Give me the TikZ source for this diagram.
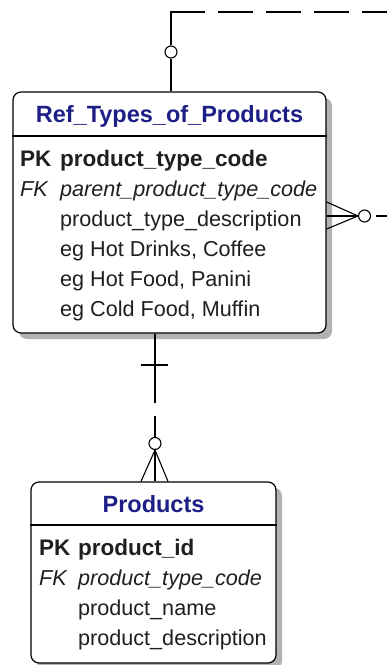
\documentclass[tikz,border=0pt]{standalone}
\usepackage{fontspec}
\setmainfont{Liberation Sans}
\usetikzlibrary{shadows}
\usetikzlibrary{positioning}
\definecolor{titleblue}{RGB}{30,30,135}
\tikzset{
    entbox/.style = {rectangle, rounded corners=8bp, draw=black, line width=1.2bp, fill=white, inner sep=0pt, drop shadow={shadow xshift=6bp, shadow yshift=-6bp, fill=black!30, opacity=1}},
    enttitle/.style = {anchor=base, inner sep=0pt, text=titleblue, font=\bfseries\fontsize{23.5bp}{28bp}\selectfont},
    entline/.style = {-, line width=1.2bp, black},
    keyc/.style = {anchor=base west, inner sep=0pt, text=black!88},
    fldc/.style = {anchor=base west, inner sep=0pt, text=black!88},
    pkf/.style = {font=\bfseries\fontsize{22.5bp}{27bp}\selectfont},
    fkf/.style = {font=\itshape\fontsize{21.6bp}{26bp}\selectfont},
    nrf/.style = {font=\fontsize{21.6bp}{26bp}\selectfont},
    rel/.style = {-, line width=1.1bp, black},
    reldash/.style = {rel, dash pattern=on 35bp off 13bp, dash phase=35bp}, % middle of the self link
    optc/.style = {circle, draw=black, line width=1.1bp, fill=white, minimum size=12bp, inner sep=0pt}
}
\begin{document}
\begin{tikzpicture}[x=1bp, y=-1bp]
  \path[fill=white, use as bounding box] (0,0) rectangle (386,665);

  % entities
  \node[entbox, minimum width=313bp, minimum height=241bp] (ref) at (169.5,212.5) {};
  \draw[entline] (ref.west |- 0,136) -- (ref.east |- 0,136);
  \node[enttitle] (reft) at (169.5,122.5) {Ref\_Types\_of\_Products};
  \foreach \s/\k/\f [count=\i from 0] in {pkf/PK/product\_type\_code, fkf/FK/parent\_product\_type\_code, nrf/{}/product\_type\_description, nrf/{}/{eg Hot Drinks, Coffee}, nrf/{}/{eg Hot Food, Panini}, nrf/{}/{eg Cold Food, Muffin}} {
    \node[keyc, \s] (refk\i) at (20, 166+30*\i) {\k};
    \node[fldc, \s] (reff\i) at (60, 166+30*\i) {\f};
  }

  \node[entbox, minimum width=245bp, minimum height=181bp] (prod) at (153.5,572.5) {};
  \draw[entline] (prod.west |- 0,525) -- (prod.east |- 0,525);
  \node[enttitle] (prodt) at (153.5,512) {Products};
  \foreach \s/\k/\f [count=\i from 0] in {pkf/PK/product\_id, fkf/FK/product\_type\_code, nrf/{}/product\_name, nrf/{}/product\_description} {
    \node[keyc, \s] (prodk\i) at (39, 555+30*\i) {\k};
    \node[fldc, \s] (prodf\i) at (78, 555+30*\i) {\f};
  }

  % self link of ref
  \node[optc] (sc) at (171,52) {};
  \coordinate (st) at (205,12);
  \coordinate (se) at (404.5,12);
  \coordinate (cfa) at (358,216);
  \node[optc, right=0pt of cfa] (sc2) {};
  \draw[rel] (ref.north -| sc) -- (sc);
  \draw[rel] (sc) |- (st);
  \draw[reldash] (st) -- (se) |- (sc2);
  \draw[rel] (ref.east |- cfa) -- (cfa);
  \draw[rel] (ref.east |- 0,202) -- (cfa) -- (ref.east |- 0,229);

  % ref to prod
  \coordinate (bar) at (155,365);
  \coordinate (cfb) at (155,450);
  \node[optc, above=0pt of cfb] (sc3) {};
  \draw[rel, dash pattern=on 69bp off 13bp on 300bp off 13bp] (ref.south -| sc3) -- (sc3);
  \draw[rel] ([xshift=-14bp]bar) -- ([xshift=13bp]bar);
  \draw[rel] (sc3) -- (prod.north -| sc3);
  \draw[rel] (prod.north -| 141,0) -- (cfb) -- (prod.north -| 168,0);
\end{tikzpicture}
\end{document}
